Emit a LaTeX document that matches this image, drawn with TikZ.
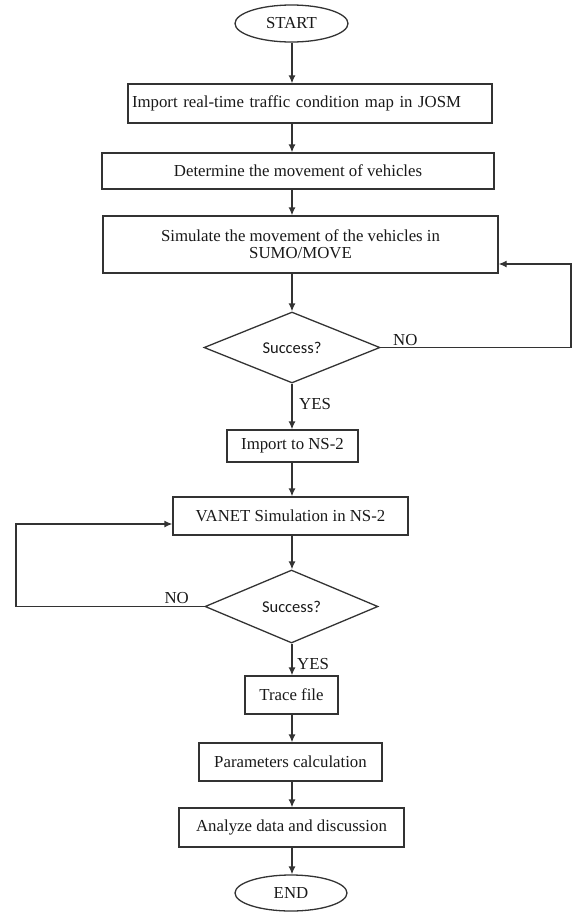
\documentclass[tikz,border=0pt]{standalone}
\usepackage{fontspec}
\setmainfont{Liberation Serif}
\newfontfamily\calibri{Carlito}
\usepackage{tikz}
\usetikzlibrary{shapes.geometric,arrows.meta,positioning,calc}

\begin{document}
\begin{tikzpicture}[x=1pt,y=-1pt,
  every node/.style={font=\fontsize{16.8}{17}\selectfont,text=black!90},
  line/.style={line width=1.3pt,draw=black!80},
  arr/.style={line,-{Latex[length=8pt,width=7pt]}},
  stepbox/.style={line,rectangle,inner sep=0pt,align=center},
  term/.style={line,ellipse,inner sep=0pt,minimum width=113pt,minimum height=37pt},
  test/.style={line,diamond,inner sep=0pt,font=\calibri\fontsize{16.5}{17}\selectfont}]
\useasboundingbox (0,0) rectangle (572,914);
\coordinate (axis) at (292,0);
% boxes
\node[term] (start) at (291.5,23.5) {START};
\node[stepbox,minimum width=364pt,minimum height=39pt,text width=356pt,align=left] (import) at (310,103.5) {Import real-time traffic condition map in JOSM};
\node[stepbox,minimum width=392pt,minimum height=36pt] (determine) at (298,171) {Determine the movement of vehicles};
\node[stepbox,minimum width=395pt,minimum height=57pt] (simulate) at (300.5,244.5) {Simulate the movement of the vehicles in\\SUMO/MOVE};
\node[test,minimum width=176pt,minimum height=71pt] (success1) at (292,347.5) {Success?};
\node[stepbox,minimum width=131pt,minimum height=32pt] (importns) at (292.5,446) {Import to NS-2};
\node[stepbox,minimum width=235pt,minimum height=38pt] (vanet) at (290.5,516) {VANET Simulation in NS-2};
\node[test,minimum width=173pt,minimum height=73pt] (success2) at (291.5,606.5) {Success?};
\node[stepbox,minimum width=93pt,minimum height=38pt] (trace) at (291.5,695) {Trace file};
\node[stepbox,minimum width=183pt,minimum height=38pt] (params) at (290.5,762) {Parameters calculation};
\node[stepbox,minimum width=225pt,minimum height=39pt] (analyze) at (291.5,827.5) {Analyze data and discussion};
\node[term,minimum width=112pt,minimum height=36pt] (finish) at (291,893) {END};
% main flow
\foreach \a/\b in {start/import,import/determine,determine/simulate,simulate/success1,
  success1/importns,importns/vanet,vanet/success2,success2/trace,trace/params,
  params/analyze,analyze/finish}
  \draw[arr] (\a.south -| axis) -- (\b.north -| axis);
% loops
\coordinate (loopR) at (571,264);
\draw[arr] (success1.east) -| (loopR) -- (loopR -| simulate.east);
\coordinate (loopL) at (16,524);
\draw[arr] (success2.west) -| (loopL) -- (loopL -| vanet.west);
% labels
\node[anchor=south west,inner sep=0pt] (no1) at (393,346) {NO};
\node[anchor=south east,inner sep=0pt] (no2) at (189,604) {NO};
\node[anchor=west,inner sep=0pt] (yes1) at (299,404) {YES};
\node[anchor=west,inner sep=0pt] (yes2) at (297,664) {YES};
\end{tikzpicture}
\end{document}
